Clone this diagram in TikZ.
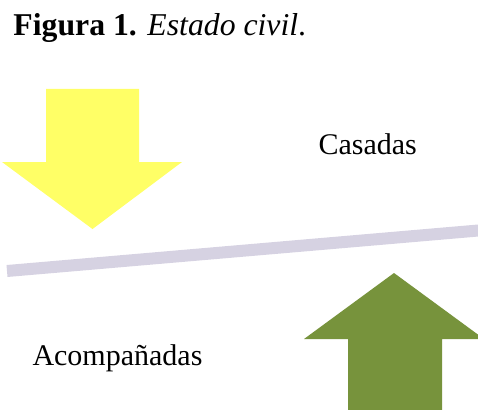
\documentclass[tikz,border=0pt]{standalone}
\usepackage{fontspec}
\setmainfont{Liberation Serif}

\definecolor{arrowyellow}{RGB}{255,255,102}
\definecolor{arrowgreen}{RGB}{119,147,60}
\definecolor{scalegray}{RGB}{214,210,226}

\tikzset{every picture/.style={line width=0.75pt}}
\tikzset{
  labeltext/.style={anchor=base west, inner sep=0pt, font=\fontsize{22.5}{27}\selectfont},
  titletext/.style={anchor=base west, inner sep=0pt, font=\fontsize{23.8}{28}\selectfont}
}

\begin{document}
\begin{tikzpicture}[x=0.75pt,y=0.75pt,yscale=-1,xscale=1]
		\useasboundingbox (0,0) rectangle (478,410);
		\clip (0,0) rectangle (478,410);

		%Straight Lines [id:scale]
		\coordinate (barleft) at (7,271);
		\coordinate (barright) at (490,229.5);
		\draw [color=scalegray, line width=9pt] (barleft) -- (barright) ;
		%Shape: Down Arrow [id:yellow]
		\fill [arrowyellow] (46,89) -- (139,89) -- (139,162) -- (182,162) -- (92.5,229) -- (2,162) -- (46,162) -- cycle ;
		%Shape: Up Arrow [id:green]
		\fill [arrowgreen] (348,420) -- (348,339) -- (304,339) -- (394,273) -- (484,339) -- (442,339) -- (442,420) -- cycle ;

		% Text Node
		\draw (13,36) node [titletext] (title) {\textbf{Figura 1.} \textit{Estado civil}.};
		% Text Node
		\draw (318,154) node [labeltext] (casadas) {Casadas};
		% Text Node
		\draw (32,365) node [labeltext] (acomp) {Acompañadas};

\end{tikzpicture}
\end{document}
